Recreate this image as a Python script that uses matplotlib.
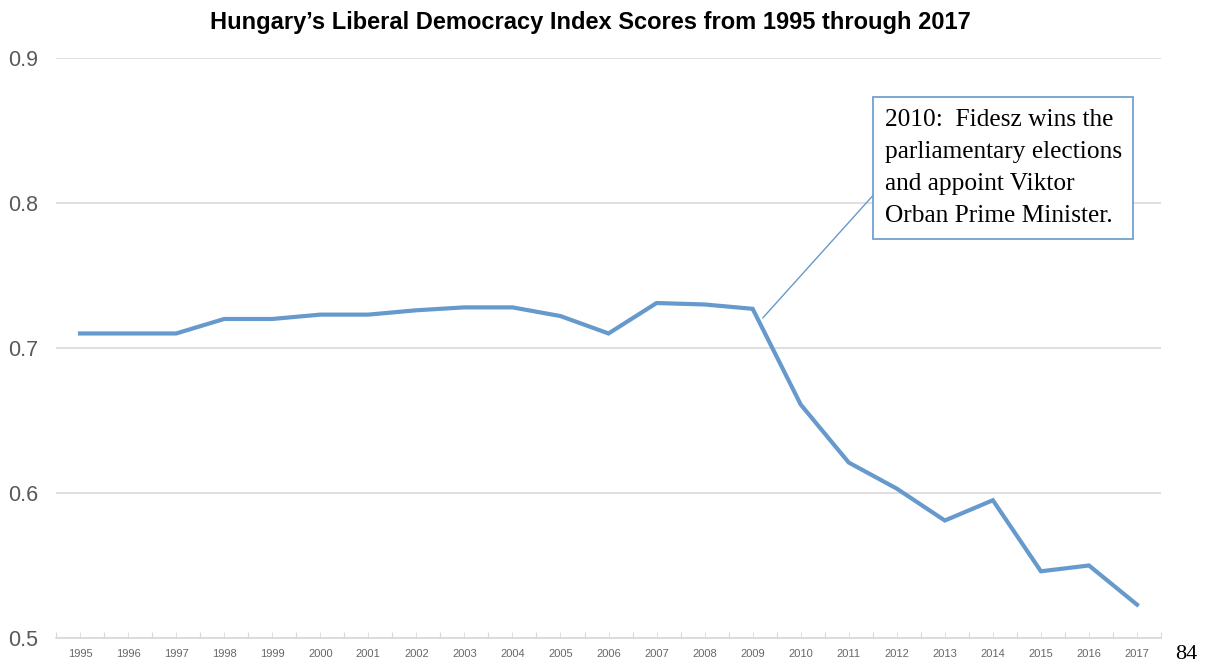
import matplotlib.pyplot as plt
import numpy as np

years = ['1995', '1996', '1997', '1998', '1999', '2000', '2001', '2002', '2003', '2004', '2005', '2006',
         '2007', '2008', '2009', '2010', '2011', '2012', '2013', '2014', '2015', '2016', '2017']
scores = [0.710, 0.710, 0.710, 0.720, 0.720, 0.723, 0.723, 0.726, 0.728, 0.728, 0.722, 0.710,
          0.731, 0.730, 0.727, 0.661, 0.621, 0.603, 0.581, 0.595, 0.546, 0.550, 0.523]
y_ticks = [0.5, 0.6, 0.7, 0.8, 0.9]

note = "2010:  Fidesz wins the\nparliamentary elections\nand appoint Viktor\nOrban Prime Minister."

blue = '#6699cc'
grid = '#d9d9d9'

fig = plt.figure(figsize=(12.05, 6.67), dpi=100)
ax = fig.add_axes([0.0465, 0.0435, 0.917, 0.8696])

x = np.arange(len(years))
ax.plot(x, scores, color=blue, linewidth=3.0, solid_joinstyle='miter', zorder=3)

ax.set_xlim(-0.5, len(years) - 0.5)
ax.set_ylim(0.5, 0.9)
ax.set_yticks(y_ticks)
ax.set_yticklabels(['0.5', '0.6', '0.7', '0.8', '0.9'], family='Liberation Sans')
ax.yaxis.grid(True, color=grid, linewidth=1.2)
ax.set_axisbelow(True)

# category ticks between labels, labels centred
ax.set_xticks(np.arange(-0.5, len(years), 1.0))
ax.set_xticklabels([])
ax.set_xticks(x, minor=True)
ax.set_xticklabels(years, minor=True, fontsize=8, color='#666666', family='Liberation Sans')
ax.tick_params(axis='x', which='both', direction='in', length=4, color=grid, pad=8)
ax.tick_params(axis='y', length=0, labelsize=15.5, labelcolor='#595959', pad=13)

for s in ['top', 'right', 'left']:
    ax.spines[s].set_visible(False)
ax.spines['bottom'].set_color(grid)
ax.spines['bottom'].set_linewidth(1.2)

fig.text(0.49, 0.966, "Hungary\u2019s Liberal Democracy Index Scores from 1995 through 2017",
         ha='center', va='center', fontsize=17, fontweight='bold', family='Liberation Sans')

# callout box with connector to 2009 point
ax.annotate(note, xy=(14.21, 0.7207), xytext=(16.75, 0.824),
            xycoords='data', textcoords='data', ha='left', va='center',
            fontsize=18.3, family='Liberation Serif', linespacing=1.6,
            bbox=dict(boxstyle='square,pad=0.45', fc='white', ec=blue, lw=1.2),
            arrowprops=dict(arrowstyle='-', color=blue, lw=1.0, shrinkA=0, shrinkB=0,
                            relpos=(0, 0.38)))

# page number
fig.text(0.994, 0.004, '84', ha='right', va='bottom', fontsize=16, family='Liberation Serif')

fig.savefig('out.png', dpi=100)
